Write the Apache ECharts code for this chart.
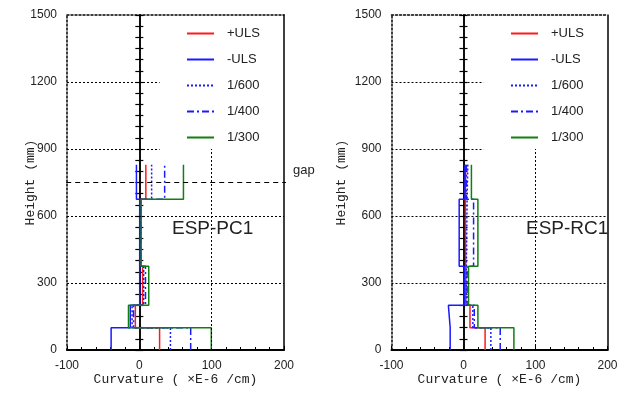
<!DOCTYPE html>
<html>
<head>
<meta charset="utf-8">
<script src="https://cdn.jsdelivr.net/npm/echarts@6/dist/echarts.min.js"></script>
<style>
  body { margin: 0; background: #fff; }
  #main { width: 622px; height: 394px; }
</style>
</head>
<body>
<div id="main"></div>
<script>
// band edges along the height (mm)
var heights = [0, 100, 200, 375, 675, 830];
var seriesNames = ['+ULS', '-ULS', '1/600', '1/400', '1/300'];
var xTicks = [-100, 0, 100, 200];
var yTicks = [0, 300, 600, 900, 1200, 1500];
var gapHeight = 750;

// curvature per band (x E-6 /cm), ESP-PC1
var pcPlusUls = [28, -5.5, 4.5, 1, 9];
var pcMinusUls = [-39, -12.5, 0.5, 0.5, -4];
var pc600 = [43, -10, 6, 1.5, 17];
var pc400 = [71, -8, 8.5, 2, 35];
var pc300 = [99.5, -15, 13, 2.5, 61];

// ESP-RC1
var rcPlusUls = [30, 9, 3, 2.5, 3];
var rcMinusUls = [-18.5, -21, 1, -6, 2];
var rc600 = [38, 13, 4, 5, 6];
var rc400 = [51, 15, 5, 14, 4];
var rc300 = [70, 20, 7, 20, 11];

var myChart = echarts.init(document.getElementById('main'), null, { renderer: 'canvas' });

var colors = ['#ff1a1a', '#1a1aff', '#1a1aff', '#1a1aff', '#0f7f0f'];
var lineTypes = ['solid', 'solid', [2, 2], [7, 3, 2, 3], 'solid'];
var numFont = 'Liberation Sans, Arial, sans-serif';
var monoFont = 'Liberation Mono, DejaVu Sans Mono, monospace';

function stepPoints(vals)
{
    var pts = [];
    for (var i = 0; i < vals.length; i++) {
        pts.push([vals[i], heights[i]]);
        pts.push([vals[i], heights[i + 1]]);
    }
    return pts;
}

function plain(v)
{
    return String(v);
}

function axesFor(g, yNameGap)
{
    var dotted = { color: '#000', width: 1.5, type: [2, 2] };
    var solid = { color: '#000', width: 1.5 };
    var xs = [
        {
            gridIndex: g, type: 'value', position: 'bottom',
            min: xTicks[0], max: xTicks[xTicks.length - 1], interval: 100,
            name: 'Curvature ( ×E-6 /cm)', nameLocation: 'middle', nameGap: 23,
            nameMoveOverlap: false,
            nameTextStyle: { fontFamily: monoFont, fontSize: 13, color: '#222' },
            axisLine: { onZero: false, lineStyle: { color: '#000', width: 2 } },
            axisTick: { inside: true, length: 4, lineStyle: { color: '#000' } },
            minorTick: { show: true, splitNumber: 5, length: 3, lineStyle: { color: '#000' } },
            axisLabel: { margin: 10, fontFamily: numFont, fontSize: 12, color: '#222', formatter: plain },
            splitLine: { show: false }
        },
        {
            gridIndex: g, type: 'value', position: 'top',
            min: xTicks[0], max: xTicks[xTicks.length - 1], interval: 100,
            axisLine: { onZero: false, lineStyle: dotted },
            axisTick: { show: false }, axisLabel: { show: false }, splitLine: { show: false }
        }
    ];
    var ys = [
        {
            gridIndex: g, type: 'value', position: 'left',
            min: yTicks[0], max: yTicks[yTicks.length - 1], interval: 300,
            name: 'Height (mm)', nameLocation: 'middle', nameGap: yNameGap,
            nameMoveOverlap: false,
            nameTextStyle: { fontFamily: monoFont, fontSize: 13, color: '#222' },
            axisLine: { onZero: false, lineStyle: dotted },
            axisTick: { show: false },
            axisLabel: { margin: 10, fontFamily: numFont, fontSize: 12, color: '#222', formatter: plain },
            splitLine: { show: false }
        },
        {
            gridIndex: g, type: 'value', position: 'right',
            min: 0, max: 1500, interval: 300,
            axisLine: { onZero: false, lineStyle: solid },
            axisTick: { show: false }, axisLabel: { show: false }, splitLine: { show: false }
        },
        // zero line with crossing ticks (two axes, one tick side each)
        {
            gridIndex: g, type: 'value', position: 'left',
            min: 0, max: 1500, interval: 50,
            axisLine: { onZero: true, onZeroAxisIndex: g * 2, lineStyle: solid },
            axisTick: { inside: true, length: 4, lineStyle: { color: '#000', width: 1.2 } },
            axisLabel: { show: false }, splitLine: { show: false }
        },
        {
            gridIndex: g, type: 'value', position: 'left',
            min: 0, max: 1500, interval: 50,
            axisLine: { onZero: true, onZeroAxisIndex: g * 2 + 1, lineStyle: solid },
            axisTick: { inside: false, length: 4, lineStyle: { color: '#000', width: 1.2 } },
            axisLabel: { show: false }, splitLine: { show: false }
        }
    ];
    return { xs: xs, ys: ys };
}

function panelSeries(g, sets, withGap)
{
    var out = [];
    var gl = { color: '#000', width: 1, type: [2, 2] };
    // grid lines, partly hidden behind the legend
    out.push({
        type: 'line', xAxisIndex: g * 2, yAxisIndex: g * 4, data: [],
        silent: true, z: 1,
        markLine: {
            silent: true, symbol: 'none', label: { show: false },
            lineStyle: gl,
            data: [
                { yAxis: 300 },
                { yAxis: 600 },
                [{ coord: [-100, 900] }, { coord: [28, 900] }],
                [{ coord: [-100, 1200] }, { coord: [28, 1200] }],
                [{ coord: [100, 0] }, { coord: [100, 900] }]
            ]
        }
    });
    sets.forEach(function (vals, i)
    {
        out.push({
            type: 'line', name: seriesNames[i],
            xAxisIndex: g * 2, yAxisIndex: g * 4,
            data: stepPoints(vals),
            symbol: 'none', z: 3,
            color: colors[i],
            lineStyle: { color: colors[i], width: 1.5, type: lineTypes[i] }
        });
    });
    if (withGap) {
        out.push({
            type: 'line', xAxisIndex: g * 2, yAxisIndex: g * 4,
            data: [[-126, gapHeight], [241, gapHeight]],
            symbol: 'none', clip: false, silent: true, z: 4,
            lineStyle: { color: '#000', width: 1.2, type: [5, 4] }
        });
    }
    return out;
}

var a0 = axesFor(0, 30);
var a1 = axesFor(1, 43);

var legendBase = {
    orient: 'vertical', top: 27, padding: 0,
    itemWidth: 27, itemHeight: 14, itemGap: 13,
    data: seriesNames,
    itemStyle: { opacity: 0 },
    textStyle: { fontFamily: numFont, fontSize: 13, color: '#222', padding: [0, 0, 0, 8] },
    selectedMode: false
};

var option = {
    animation: false,
    backgroundColor: '#fff',
    grid: [
        { left: 67, top: 15, width: 217, height: 335 },
        { left: 391.5, top: 15, width: 216, height: 335 }
    ],
    title: [
        { text: 'ESP-PC1', left: 172, top: 219, padding: 0,
          textStyle: { fontFamily: numFont, fontSize: 19, fontWeight: 'normal', color: '#222' } },
        { text: 'ESP-RC1', left: 526, top: 219, padding: 0,
          textStyle: { fontFamily: numFont, fontSize: 19, fontWeight: 'normal', color: '#222' } },
        { text: 'gap', left: 293, top: 164, padding: 0,
          textStyle: { fontFamily: numFont, fontSize: 13, fontWeight: 'normal', color: '#222' } }
    ],
    legend: [
        Object.assign({ left: 186 }, legendBase),
        Object.assign({ left: 510 }, legendBase)
    ],
    xAxis: a0.xs.concat(a1.xs),
    yAxis: a0.ys.concat(a1.ys),
    series: panelSeries(0, [pcPlusUls, pcMinusUls, pc600, pc400, pc300], true)
        .concat(panelSeries(1, [rcPlusUls, rcMinusUls, rc600, rc400, rc300], false))
};
myChart.setOption(option);
</script>
</body>
</html>
